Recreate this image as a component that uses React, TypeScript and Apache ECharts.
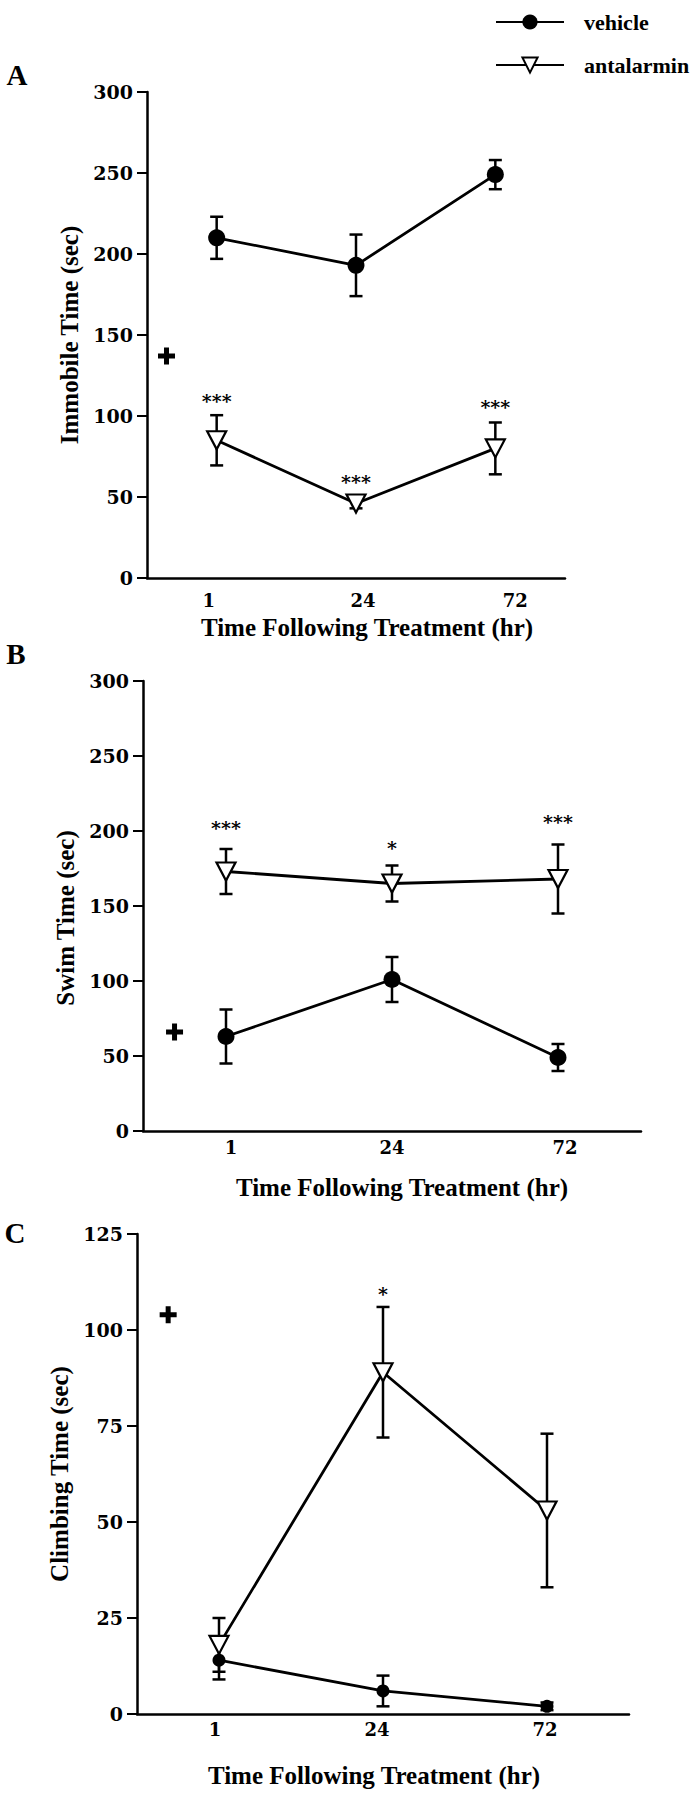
import React, { useEffect, useRef } from 'react';
import * as echarts from 'echarts';

// ---------- data ----------
const categories = ['1', '24', '72'];

// Panel A: Immobile time
const immobileVehicle = [210, 193, 249];
const immobileVehicleErr = [13, 19, 9];
const immobileAntalarmin = [85, 46, 80];
const immobileAntalarminErr = [15.5, 3, 16];
const immobileStars = ['***', '***', '***'];
const immobileStarLevels = [113, 63, 109];
const immobileCross = [-0.36, 137];

// Panel B: Swim time
const swimVehicle = [63, 101, 49];
const swimVehicleErr = [18, 15, 9];
const swimAntalarmin = [173, 165, 168];
const swimAntalarminErr = [15, 12, 23];
const swimStars = ['***', '*', '***'];
const swimStarLevels = [206, 193, 210];
const swimCross = [-0.31, 66];

// Panel C: Climbing time
const climbVehicle = [14, 6, 2];
const climbVehicleErr = [5, 4, 1];
const climbAntalarmin = [18, 89, 53];
const climbAntalarminErr = [7, 17, 20];
const climbStars = ['', '*', ''];
const climbStarLevels = [0, 111, 0];
const climbCross = [-0.31, 104];

const yMaxAB = 300;
const yIntervalAB = 50;
const yMaxC = 125;
const yIntervalC = 25;

// ---------- styling / layout ----------
const FONT = '"Liberation Serif", "Times New Roman", serif';
const NUMFONT = '"DejaVu Serif", "Liberation Serif", serif';
const TRI = 'path://M0,0 L20,0 L10,18 Z';
const PLUS = 'path://M6,0 H11 V6 H17 V11 H11 V17 H6 V11 H0 V6 H6 Z';

const panels = [
  {
    letter: 'A', letterPos: [17, 75],
    yName: 'Immobile Time (sec)',
    grid: { left: 147, top: 92, width: 418, height: 486 },
    yMax: yMaxAB, yInterval: yIntervalAB,
    vehicle: immobileVehicle, vehicleErr: immobileVehicleErr,
    antalarmin: immobileAntalarmin, antalarminErr: immobileAntalarminErr,
    stars: immobileStars, starLevels: immobileStarLevels, cross: immobileCross,
    labelShift: [-8, 7, 20], labelMargin: 13, xNameGap: 37, xNamePad: [0, 0, 0, 22],
    yNameGap: 63, yNamePad: [0, 0, 0, 0], circle: 17, tri: 19,
  },
  {
    letter: 'B', letterPos: [16, 654],
    yName: 'Swim Time (sec)',
    grid: { left: 143, top: 681, width: 498, height: 450 },
    yMax: yMaxAB, yInterval: yIntervalAB,
    vehicle: swimVehicle, vehicleErr: swimVehicleErr,
    antalarmin: swimAntalarmin, antalarminErr: swimAntalarminErr,
    stars: swimStars, starLevels: swimStarLevels, cross: swimCross,
    labelShift: [5, 0, 7], labelMargin: 7, xNameGap: 44, xNamePad: [0, 0, 0, 20],
    yNameGap: 62, yNamePad: [0, 24, 0, 0], circle: 17, tri: 19,
  },
  {
    letter: 'C', letterPos: [15, 1233],
    yName: 'Climbing Time (sec)',
    grid: { left: 137, top: 1234, width: 492, height: 480 },
    yMax: yMaxC, yInterval: yIntervalC,
    vehicle: climbVehicle, vehicleErr: climbVehicleErr,
    antalarmin: climbAntalarmin, antalarminErr: climbAntalarminErr,
    stars: climbStars, starLevels: climbStarLevels, cross: climbCross,
    labelShift: [-4, -6, -2], labelMargin: 6, xNameGap: 49, xNamePad: [0, 18, 0, 0],
    yNameGap: 55, yNamePad: [0, 0, 0, 0], circle: 13, tri: 19,
  },
];

function errorBars(values: number[], errs: number[]) {
  return values.map((v, k) => [k, v - errs[k], v + errs[k]]);
}

function buildOption() {
  const grids: any[] = [];
  const xAxes: any[] = [];
  const yAxes: any[] = [];
  const series: any[] = [];
  const graphics: any[] = [];

  panels.forEach((p, i) => {
    grids.push({ ...p.grid, containLabel: false });
    const rich: any = {};
    p.labelShift.forEach((s, k) => {
      rich['o' + k] = {
        fontFamily: NUMFONT, fontWeight: 'bold', fontSize: 18, color: '#000',
        padding: s >= 0 ? [0, 0, 0, 2 * s] : [0, -2 * s, 0, 0],
      };
    });
    xAxes.push({
      type: 'category', gridIndex: i, data: categories, boundaryGap: true,
      axisLine: { onZero: false, lineStyle: { color: '#000', width: 2.5 } },
      axisTick: { show: false },
      axisLabel: {
        margin: p.labelMargin, color: '#000', fontFamily: NUMFONT, fontWeight: 'bold', fontSize: 18,
        formatter: (val: string, idx: number) => `{o${idx}|${val}}`, rich,
      },
      name: 'Time Following Treatment (hr)', nameLocation: 'middle', nameGap: p.xNameGap,
      nameTextStyle: { color: '#000', fontFamily: FONT, fontWeight: 'bold', fontSize: 25, padding: p.xNamePad },
      splitLine: { show: false },
    });
    xAxes.push({ type: 'value', gridIndex: i, min: -0.5, max: 2.5, show: false });
    yAxes.push({
      type: 'value', gridIndex: i, min: 0, max: p.yMax, interval: p.yInterval,
      axisLine: { show: true, onZero: false, lineStyle: { color: '#000', width: 2.5 } },
      axisTick: { show: true, length: 10, lineStyle: { color: '#000', width: 2 } },
      axisLabel: { margin: 14, color: '#000', fontFamily: NUMFONT, fontWeight: 'bold', fontSize: 19 },
      splitLine: { show: false },
      name: p.yName, nameLocation: 'middle', nameGap: p.yNameGap,
      nameTextStyle: { color: '#000', fontFamily: FONT, fontWeight: 'bold', fontSize: 25, padding: p.yNamePad },
    });

    const catX = 2 * i;
    const valX = 2 * i + 1;
    const errRender = (params: any, api: any) => {
      const x = api.value(0);
      const lo = api.coord([x, api.value(1)]);
      const hi = api.coord([x, api.value(2)]);
      const w = 6.5;
      const st = { stroke: '#000', lineWidth: 2.5 };
      return {
        type: 'group',
        children: [
          { type: 'line', shape: { x1: lo[0], y1: lo[1], x2: hi[0], y2: hi[1] }, style: st },
          { type: 'line', shape: { x1: hi[0] - w, y1: hi[1], x2: hi[0] + w, y2: hi[1] }, style: st },
          { type: 'line', shape: { x1: lo[0] - w, y1: lo[1], x2: lo[0] + w, y2: lo[1] }, style: st },
        ],
      };
    };
    series.push({
      type: 'custom', name: 'vehicle error', xAxisIndex: catX, yAxisIndex: i, z: 1,
      data: errorBars(p.vehicle, p.vehicleErr), encode: { x: 0, y: [1, 2] }, renderItem: errRender,
    });
    series.push({
      type: 'custom', name: 'antalarmin error', xAxisIndex: catX, yAxisIndex: i, z: 1,
      data: errorBars(p.antalarmin, p.antalarminErr), encode: { x: 0, y: [1, 2] }, renderItem: errRender,
    });
    series.push({
      type: 'line', name: 'vehicle', xAxisIndex: catX, yAxisIndex: i, z: 3,
      data: p.vehicle, symbol: 'circle', symbolSize: p.circle, showAllSymbol: true,
      lineStyle: { color: '#000', width: 2.8 },
      itemStyle: { color: '#000', borderColor: '#000', borderWidth: 0 },
    });
    series.push({
      type: 'line', name: 'antalarmin', xAxisIndex: catX, yAxisIndex: i, z: 3,
      data: p.antalarmin, symbol: TRI, symbolSize: [p.tri, p.tri * 0.95], showAllSymbol: true,
      lineStyle: { color: '#000', width: 2.8 },
      itemStyle: { color: '#fff', borderColor: '#000', borderWidth: 2.2 },
    });
    series.push({
      type: 'scatter', name: 'significance', xAxisIndex: catX, yAxisIndex: i, z: 4,
      data: p.stars.map((s, k) => ({ name: s, value: [k, p.starLevels[k]] })).filter((d) => d.name !== ''),
      symbolSize: 1, itemStyle: { color: 'rgba(0,0,0,0)', opacity: 1 },
      label: {
        show: true, position: 'inside', formatter: '{b}', offset: [0, 6],
        color: '#000', fontFamily: NUMFONT, fontWeight: 'bold', fontSize: 19,
      },
    });
    series.push({
      type: 'scatter', name: 'group effect', xAxisIndex: valX, yAxisIndex: i, z: 4,
      data: [p.cross], symbol: PLUS, symbolSize: 17, itemStyle: { color: '#000', opacity: 1 },
    });

    graphics.push({
      type: 'text', x: p.letterPos[0], y: p.letterPos[1],
      style: {
        text: p.letter, fill: '#000', font: `bold 29px ${FONT}`,
        textAlign: 'center', textVerticalAlign: 'middle',
      },
    });
  });

  return {
    animation: false,
    backgroundColor: '#fff',
    grid: grids,
    xAxis: xAxes,
    yAxis: yAxes,
    series,
    graphic: graphics,
    legend: {
      data: [{ name: 'vehicle' }, { name: 'antalarmin' }],
      orient: 'vertical', left: 495, top: 11, padding: 0,
      itemWidth: 68, itemHeight: 19, itemGap: 21, selectedMode: false,
      textStyle: { color: '#000', fontFamily: FONT, fontWeight: 'bold', fontSize: 22, padding: [0, 0, 0, 15] },
    },
  };
}

export default function App() {
  const ref = useRef<HTMLDivElement>(null);
  useEffect(() => {
    if (!ref.current) return;
    const chart = echarts.init(ref.current, undefined, { renderer: 'svg' });
    chart.setOption(buildOption() as any);
    return () => chart.dispose();
  }, []);
  return (
    <div
      ref={ref}
      style={{ position: 'absolute', left: 0, top: 0, width: 691, height: 1800, background: '#fff' }}
    />
  );
}
